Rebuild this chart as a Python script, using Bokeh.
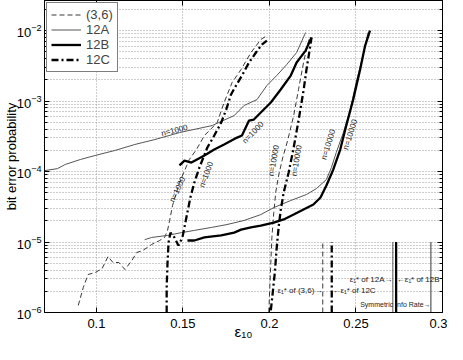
from bokeh.plotting import figure
from bokeh.models import (FixedTicker, Legend, LegendItem, CustomJSTickFormatter,
                          LinearAxis, LogAxis)
from bokeh.core.properties import value
from bokeh.embed import file_html
from bokeh.resources import INLINE

FONT = "Liberation Sans"

# ---- data ----
x36_1000 = [0.0895, 0.0924, 0.0952, 0.0993, 0.1033, 0.1067, 0.1096, 0.1130, 0.1165, 0.1205,
            0.1233, 0.1268, 0.1319, 0.1365, 0.1394, 0.1411, 0.1423, 0.1440, 0.1480, 0.1537,
            0.1578, 0.1624, 0.1698, 0.1738, 0.1784, 0.1836, 0.1893, 0.1950, 0.1985]
y36_1000 = [1.26e-6, 2.26e-6, 3.46e-6, 3.69e-6, 4.20e-6, 6.22e-6, 5.12e-6, 5.12e-6, 4.07e-6, 5.47e-6,
            7.10e-6, 7.57e-6, 9.22e-6, 1.05e-5, 1.16e-5, 1.46e-5, 2.02e-5, 3.30e-5, 6.98e-5, 1.48e-4,
            2.05e-4, 3.24e-4, 4.95e-4, 9.53e-4, 1.83e-3, 2.80e-3, 4.88e-3, 7.45e-3, 8.49e-3]

x36_10000 = [0.1996, 0.2002, 0.2008, 0.2014, 0.2025, 0.2036, 0.2054, 0.2077, 0.2105, 0.2140,
             0.2168, 0.2197, 0.2220, 0.2232]
y36_10000 = [1.0e-6, 2.26e-6, 5.12e-6, 1.16e-5, 2.62e-5, 5.03e-5, 9.06e-5, 1.58e-4, 2.75e-4, 6.22e-4,
             1.46e-3, 3.52e-3, 6.32e-3, 7.96e-3]

x12A_1000 = [0.0700, 0.0775, 0.0820, 0.0907, 0.0993, 0.1107, 0.1222, 0.1337, 0.1480, 0.1669,
             0.1796, 0.1853, 0.1928, 0.1985, 0.2042, 0.2100, 0.2157, 0.2209]
y12A_1000 = [1.03e-4, 1.10e-4, 1.26e-4, 1.48e-4, 1.69e-4, 1.99e-4, 2.42e-4, 2.84e-4, 3.57e-4, 4.49e-4,
             6.22e-4, 8.63e-4, 1.05e-3, 1.66e-3, 2.30e-3, 3.30e-3, 4.88e-3, 9.38e-3]

x12A_10000 = [0.1279, 0.1319, 0.1411, 0.1492, 0.1566, 0.1664, 0.1755, 0.1853, 0.1950, 0.2025,
              0.2123, 0.2214, 0.2272, 0.2329, 0.2358, 0.2386, 0.2427, 0.2467, 0.2501, 0.2541, 0.2570]
y12A_10000 = [1.08e-5, 1.16e-5, 1.24e-5, 1.36e-5, 1.46e-5, 1.61e-5, 1.77e-5, 2.02e-5, 2.45e-5, 3.08e-5,
              3.88e-5, 4.72e-5, 5.74e-5, 7.70e-5, 1.14e-4, 1.86e-4, 3.57e-4, 7.57e-4, 1.83e-3, 4.42e-3, 9.38e-3]

x12B_1000 = [0.1480, 0.1509, 0.1549, 0.1624, 0.1681, 0.1738, 0.1813, 0.1841, 0.1882, 0.1910,
             0.1950, 0.2008, 0.2065, 0.2123, 0.2157, 0.2209, 0.2243]
y12B_1000 = [1.22e-4, 1.43e-4, 1.34e-4, 1.69e-4, 2.05e-4, 2.42e-4, 3.03e-4, 3.24e-4, 5.28e-4, 5.47e-4,
             6.87e-4, 9.53e-4, 1.46e-3, 2.30e-3, 3.52e-3, 5.20e-3, 7.96e-3]

x12B_10000 = [0.1526, 0.1566, 0.1624, 0.1721, 0.1796, 0.1836, 0.1893, 0.1950, 0.2025, 0.2082,
              0.2140, 0.2197, 0.2254, 0.2295, 0.2329, 0.2369, 0.2409, 0.2444, 0.2484, 0.2524, 0.2553, 0.2581]
y12B_10000 = [1.05e-5, 1.05e-5, 1.16e-5, 1.24e-5, 1.36e-5, 1.50e-5, 1.61e-5, 1.71e-5, 1.89e-5, 2.09e-5,
              2.45e-5, 2.89e-5, 3.40e-5, 4.28e-5, 6.33e-5, 1.07e-4, 2.05e-4, 4.49e-4, 1.05e-3, 2.80e-3,
              6.12e-3, 1.0e-2]

x12C_1000 = [0.1406, 0.1406, 0.1411, 0.1417, 0.1428, 0.1451, 0.1474, 0.1497, 0.1520, 0.1543,
             0.1566, 0.1595, 0.1641, 0.1681, 0.1721, 0.1750, 0.1778, 0.1807, 0.1841, 0.1882,
             0.1922, 0.1956, 0.1985]
y12C_1000 = [1.0e-6, 2.26e-6, 5.12e-6, 9.84e-6, 1.36e-5, 1.16e-5, 8.91e-6, 1.16e-5, 2.23e-5, 4.28e-5,
             6.98e-5, 1.14e-4, 2.19e-4, 3.24e-4, 4.95e-4, 7.57e-4, 1.24e-3, 1.66e-3, 2.30e-3, 3.52e-3,
             4.88e-3, 6.32e-3, 7.21e-3]

x12C_10000 = [0.2008, 0.2019, 0.2031, 0.2042, 0.2054, 0.2065, 0.2082, 0.2111, 0.2140, 0.2168,
              0.2197, 0.2214, 0.2237, 0.2243]
y12C_10000 = [1.07e-6, 1.92e-6, 3.69e-6, 8.36e-6, 1.71e-5, 2.80e-5, 5.03e-5, 9.68e-5, 2.19e-4, 5.28e-4,
              1.41e-3, 2.80e-3, 6.32e-3, 7.96e-3]

# thresholds (vertical markers)
thr_names = ["(3,6)", "12C", "12A", "12B", "Symmetric Info Rate"]
thr_x = [0.2308, 0.2360, 0.2713, 0.2732, 0.2933]
thr_y0 = 1e-6
thr_y1 = 1e-5

# curve labels
lab_text = ["n=1000", "n=1000", "n=1000", "n=1000", "n=10000", "n=10000", "n=10000", "n=10000"]
lab_x = [0.1451, 0.1905, 0.1469, 0.1635, 0.2025, 0.2157, 0.2340, 0.2467]
lab_y = [3.82e-4, 3.57e-4, 5.56e-5, 9.06e-5, 1.43e-4, 1.43e-4, 2.42e-4, 3.35e-4]
lab_ang = [0.24, 0.80, 1.13, 1.22, 1.40, 1.40, 1.26, 1.26]

# threshold annotations
ann_left_text = ["ε\u2081* of (3,6)\u2192", "ε\u2081* of 12A\u2192"]
ann_left_x = [0.2306, 0.2711]
ann_left_y = [2.04e-6, 2.94e-6]
ann_right_text = ["\u2190ε\u2081* of 12C", "\u2190ε\u2081* of 12B"]
ann_right_x = [0.2364, 0.2736]
ann_right_y = [2.04e-6, 2.94e-6]
sym_text = ["Symmetric Info Rate\u2192"]
sym_x = [0.2931]
sym_y = [1.30e-6]

x_ticks = [0.1, 0.15, 0.2, 0.25, 0.3]
y_ticks = [1e-6, 1e-5, 1e-4, 1e-3, 1e-2]
x_title = "ε\u2081\u2080"
y_title = "bit error probability"

# ---- figure ----
p = figure(width=447, height=344, x_range=(0.07, 0.3), y_range=(1e-6, 0.0267),
           y_axis_type="log", output_backend="svg", toolbar_location=None,
           min_border_left=41, min_border_right=5, min_border_top=0, min_border_bottom=32)
p.background_fill_color = "white"
p.border_fill_color = "white"
p.outline_line_color = "black"
p.outline_line_width = 1

xb = p.below[0]
yl = p.left[0]

minor = [k * 10.0 ** e for e in range(-6, -1) for k in range(2, 10)]
yl.ticker = FixedTicker(ticks=y_ticks, minor_ticks=minor)
xb.ticker = FixedTicker(ticks=x_ticks)
xb.formatter = CustomJSTickFormatter(code="return String(Math.round(tick*100)/100);")

for ax in (xb, yl):
    ax.axis_line_color = "black"
    ax.major_tick_in = 5
    ax.major_tick_out = 0
    ax.minor_tick_in = 3
    ax.minor_tick_out = 0
    ax.major_label_text_font = FONT
    ax.major_label_text_font_size = "13px"
    ax.major_label_text_color = "black"
    ax.axis_label_text_font = FONT
    ax.axis_label_text_font_style = "normal"
    ax.axis_label_text_color = "black"
xb.minor_tick_line_color = None
xb.major_label_standoff = 6
yl.major_label_standoff = 3
xb.axis_label = x_title
xb.axis_label_text_font_size = "15px"
xb.axis_label_standoff = -8
yl.axis_label = y_title
yl.axis_label_text_font_size = "13px"
yl.axis_label_standoff = -5

# mirrored tick marks on top and right (MATLAB box), without labels
top_ax = LinearAxis(ticker=FixedTicker(ticks=x_ticks),
                    formatter=CustomJSTickFormatter(code="return '';"))
right_ax = LogAxis(ticker=FixedTicker(ticks=y_ticks, minor_ticks=minor),
                   formatter=CustomJSTickFormatter(code="return '';"))
for ax in (top_ax, right_ax):
    ax.major_label_text_font_size = "0px"
    ax.major_label_standoff = 0
    ax.major_tick_in = 5
    ax.major_tick_out = 0
    ax.minor_tick_in = 3
    ax.minor_tick_out = 0
    ax.axis_line_color = "black"
top_ax.minor_tick_line_color = None
p.add_layout(top_ax, "above")
p.add_layout(right_ax, "right")

grid_col = "#9a9a9a"
p.xgrid.grid_line_color = grid_col
p.xgrid.grid_line_dash = "1 2"
p.ygrid.grid_line_color = grid_col
p.ygrid.grid_line_dash = "1 2"
p.ygrid.minor_grid_line_color = grid_col
p.ygrid.minor_grid_line_dash = "1 2"

# styles
S36 = dict(line_color="#222222", line_width=0.9, line_dash="5 3")
S12A = dict(line_color="#555555", line_width=1.0)
S12B = dict(line_color="black", line_width=2.3)
S12C = dict(line_color="black", line_width=2.3, line_dash="7 3 2 3")

r36 = p.line(x36_1000, y36_1000, **S36)
p.line(x36_10000, y36_10000, **S36)
rA = p.line(x12A_1000, y12A_1000, **S12A)
p.line(x12A_10000, y12A_10000, **S12A)
rB = p.line(x12B_1000, y12B_1000, **S12B)
p.line(x12B_10000, y12B_10000, **S12B)
rC = p.line(x12C_1000, y12C_1000, **S12C)
p.line(x12C_10000, y12C_10000, **S12C)

# threshold markers
thr_styles = [S36, S12C, S12A, S12B, dict(line_color="#333333", line_width=1.0)]
for xv, st in zip(thr_x, thr_styles):
    p.line([xv, xv], [thr_y0, thr_y1], **st)

# curve labels
p.text(x=lab_x, y=lab_y, text=lab_text, angle=lab_ang, text_font=value(FONT),
       text_font_size="8px", text_align="center", text_baseline="middle", text_color="#222222")

p.text(x=ann_left_x, y=ann_left_y, text=ann_left_text, text_font=value(FONT),
       text_font_size="8px", text_align="right", text_baseline="middle", text_color="#222222")
p.text(x=ann_right_x, y=ann_right_y, text=ann_right_text, text_font=value(FONT),
       text_font_size="8px", text_align="left", text_baseline="middle", text_color="#222222")
p.text(x=sym_x, y=sym_y, text=sym_text, text_font=value(FONT),
       text_font_size="7px", text_align="right", text_baseline="middle", text_color="#222222")

legend = Legend(items=[LegendItem(label="(3,6)", renderers=[r36]),
                       LegendItem(label="12A", renderers=[rA]),
                       LegendItem(label="12B", renderers=[rB]),
                       LegendItem(label="12C", renderers=[rC])],
                location="top_left")
legend.margin = 2
legend.padding = 4
legend.spacing = 0
legend.label_text_font = FONT
legend.label_text_font_size = "13px"
legend.label_height = 15
legend.glyph_height = 15
legend.glyph_width = 30
legend.label_standoff = 5
legend.border_line_color = "black"
legend.border_line_width = 1
legend.background_fill_alpha = 1.0
p.add_layout(legend)

open("out.html", "w").write(file_html(p, INLINE))
